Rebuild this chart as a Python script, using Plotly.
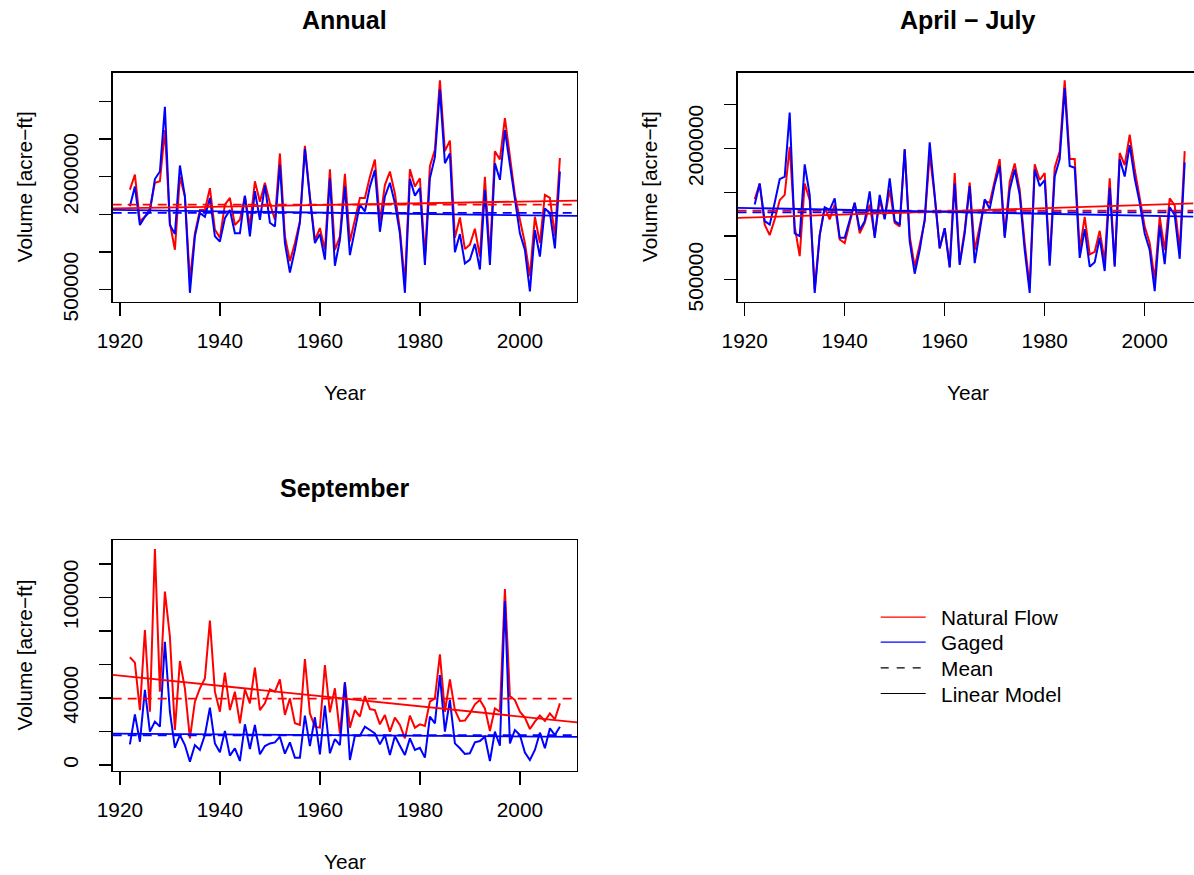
import numpy as np
import plotly.graph_objects as go

# ---------------- data ----------------
years = list(range(1922, 2009))

annual_natural = [
    1830000, 2030000, 1410000, 1470000, 1580000, 1920000, 1940000, 2620000, 1385000, 1031000,
    2000000, 1739000, 630000, 1250000, 1560000, 1560000, 1850000, 1300000, 1190000, 1630000,
    1720000, 1360000, 1430000, 1740000, 1340000, 1940000, 1670000, 1920000, 1650000, 1430000,
    2310000, 1210000, 880000, 1120000, 1410000, 2410000, 1740000, 1160000, 1320000, 1030000,
    2100000, 1030000, 1210000, 2040000, 1140000, 1430000, 1720000, 1720000, 2000000, 2230000,
    1410000, 1890000, 2070000, 1780000, 1300000, 590000, 2100000, 1870000, 1980000, 920000,
    2140000, 2360000, 3280000, 2340000, 2480000, 1190000, 1460000, 1040000, 1100000, 1310000,
    940000, 2000000, 940000, 2340000, 2230000, 2780000, 2270000, 1760000, 1430000, 1120000,
    680000, 1470000, 1120000, 1760000, 1720000, 1210000, 2250000,
]
annual_gaged = [
    1610000, 1870000, 1360000, 1470000, 1540000, 1970000, 2070000, 2930000, 1360000, 1240000,
    2150000, 1740000, 460000, 1210000, 1520000, 1470000, 1720000, 1210000, 1140000, 1450000,
    1560000, 1250000, 1250000, 1750000, 1210000, 1810000, 1430000, 1890000, 1390000, 1340000,
    2160000, 1120000, 730000, 1030000, 1390000, 2370000, 1720000, 1120000, 1240000, 900000,
    1980000, 820000, 1160000, 1870000, 960000, 1300000, 1630000, 1540000, 1870000, 2090000,
    1270000, 1740000, 1920000, 1650000, 1250000, 460000, 1970000, 1750000, 1850000, 830000,
    1980000, 2260000, 3160000, 2180000, 2310000, 1000000, 1240000, 850000, 900000, 1110000,
    770000, 1820000, 830000, 2180000, 1960000, 2620000, 2140000, 1670000, 1250000, 1030000,
    480000, 1290000, 940000, 1580000, 1520000, 1050000, 2070000,
]
aprjul_natural = [
    1420000, 1600000, 1130000, 1010000, 1190000, 1410000, 1470000, 2020000, 1110000, 770000,
    1600000, 1410000, 390000, 1010000, 1320000, 1190000, 1360000, 960000, 920000, 1150000,
    1380000, 1030000, 1150000, 1360000, 1000000, 1410000, 1200000, 1530000, 1150000, 1110000,
    1990000, 1000000, 650000, 900000, 1170000, 1930000, 1450000, 860000, 1090000, 650000,
    1720000, 690000, 1070000, 1610000, 840000, 1110000, 1400000, 1380000, 1640000, 1880000,
    1000000, 1620000, 1830000, 1530000, 920000, 420000, 1820000, 1640000, 1720000, 710000,
    1780000, 1970000, 2780000, 1880000, 1880000, 840000, 1220000, 790000, 820000, 1060000,
    710000, 1660000, 670000, 1950000, 1810000, 2160000, 1760000, 1450000, 1110000, 920000,
    500000, 1220000, 840000, 1430000, 1350000, 840000, 1970000,
]
aprjul_gaged = [
    1360000, 1600000, 1170000, 1130000, 1380000, 1650000, 1680000, 2410000, 1030000, 1000000,
    1820000, 1470000, 350000, 1010000, 1330000, 1300000, 1430000, 980000, 980000, 1170000,
    1380000, 1070000, 1170000, 1510000, 980000, 1470000, 1190000, 1660000, 1170000, 1130000,
    1990000, 940000, 570000, 840000, 1190000, 2070000, 1490000, 860000, 1090000, 640000,
    1600000, 670000, 1030000, 1570000, 690000, 1070000, 1420000, 1310000, 1590000, 1800000,
    980000, 1530000, 1760000, 1470000, 840000, 350000, 1760000, 1570000, 1640000, 660000,
    1680000, 1880000, 2690000, 1800000, 1780000, 750000, 1080000, 650000, 700000, 980000,
    600000, 1550000, 650000, 1880000, 1680000, 2040000, 1660000, 1380000, 1030000, 840000,
    370000, 1120000, 680000, 1330000, 1240000, 740000, 1840000,
]
sep_natural = [
    64300, 61100, 32800, 80600, 31800, 129000, 43800, 103500, 76600, 20900,
    62100, 45800, 15900, 37800, 45800, 51700, 86200, 43800, 31800, 55100,
    32800, 43800, 24900, 45200, 36800, 58100, 32800, 36800, 45200, 43800,
    51100, 29900, 39800, 24900, 23900, 63300, 30800, 22900, 22300, 59700,
    31400, 45800, 18900, 49400, 22300, 32800, 28900, 41200, 33400, 32800,
    24300, 29900, 19900, 28300, 23900, 15900, 29500, 22300, 24300, 23300,
    37800, 39800, 66100, 31800, 51100, 32800, 26300, 26500, 30800, 36200,
    38800, 33800, 20300, 33800, 31800, 105100, 41200, 38800, 31800, 28300,
    21500, 25900, 29500, 26300, 30800, 27300, 36800,
]
sep_gaged = [
    12300, 30200, 13900, 44800, 19900, 25900, 22900, 73600, 31800, 10300,
    17900, 11900, 2000, 11900, 9000, 17900, 34200, 12900, 7600, 20300,
    5600, 10000, 2400, 24300, 9600, 23900, 6400, 11300, 12900, 13500,
    16900, 6800, 13500, 4400, 4400, 29500, 11300, 28500, 6400, 35400,
    7000, 15500, 11900, 49400, 3000, 17500, 17500, 22900, 20900, 18900,
    12300, 17900, 6000, 17300, 11500, 6000, 15900, 9000, 10300, 4400,
    28900, 24900, 53700, 19900, 38800, 12900, 10000, 6600, 7000, 13500,
    14300, 16900, 2400, 19900, 11500, 97900, 12900, 20900, 17900, 7400,
    3000, 9000, 19300, 10000, 21900, 17900, 22900,
]

panel_titles = ["Annual", "April \u2212 July", "September"]
x_title = "Year"
y_title = "Volume [acre\u2212ft]"
x_tick_vals = [1920, 1940, 1960, 1980, 2000]
annual_tick_vals = [500000, 1000000, 1500000, 2000000, 2500000, 3000000]
annual_tick_text = ["500000", "", "", "2000000", "", ""]
aprjul_tick_vals = [500000, 1000000, 1500000, 2000000, 2500000]
aprjul_tick_text = ["500000", "", "", "2000000", ""]
sep_tick_vals = [0, 20000, 40000, 60000, 80000, 100000, 120000]
sep_tick_text = ["0", "", "40000", "", "", "100000", ""]
legend_labels = ["Natural Flow", "Gaged", "Mean", "Linear Model"]

# ---------------- layout helpers ----------------
W, H = 1194, 875
RED, BLUE, BLACK = "#FF0000", "#0000FF", "#000000"
FONT = "Liberation Sans, Arial, Helvetica, sans-serif"
FS = 20.8


def fx(px):
    return px / W


def fy(py):
    return 1 - py / H


panels = [
    dict(nat=annual_natural, gag=annual_gaged, xa="x", ya="y",
         xdom=(112.7, 577.1), ydom=(72.5, 301.5), xr=[1918.56, 2011.44],
         yr=[344700, 3384500], tv=annual_tick_vals, tt=annual_tick_text,
         title=panel_titles[0], tx=344.9),
    dict(nat=aprjul_natural, gag=aprjul_gaged, xa="x2", ya="y2",
         xdom=(737.5, 1193.5), ydom=(72.5, 301.5), xr=[1918.56, 2009.76],
         yr=[252000, 2869000], tv=aprjul_tick_vals, tt=aprjul_tick_text,
         title=panel_titles[1], tx=968.5),
    dict(nat=sep_natural, gag=sep_gaged, xa="x3", ya="y3",
         xdom=(112.7, 577.1), ydom=(540.0, 770.5), xr=[1918.56, 2011.44],
         yr=[-3280, 134330], tv=sep_tick_vals, tt=sep_tick_text,
         title=panel_titles[2], tx=344.9),
]

fig = go.Figure()
yrs = np.array(years, dtype=float)

for p in panels:
    xr = p["xr"]
    for vals, col in [(p["nat"], RED), (p["gag"], BLUE)]:
        fig.add_trace(go.Scatter(x=years, y=vals, mode="lines",
                                 line=dict(color=col, width=2),
                                 xaxis=p["xa"], yaxis=p["ya"],
                                 showlegend=False, hoverinfo="skip"))
    for vals, col in [(p["nat"], RED), (p["gag"], BLUE)]:
        m = float(np.mean(vals))
        fig.add_trace(go.Scatter(x=xr, y=[m, m], mode="lines",
                                 line=dict(color=col, width=1.8, dash="9px,6px"),
                                 xaxis=p["xa"], yaxis=p["ya"],
                                 showlegend=False, hoverinfo="skip"))
    for vals, col in [(p["nat"], RED), (p["gag"], BLUE)]:
        slope, icpt = np.polyfit(yrs, np.array(vals, dtype=float), 1)
        fig.add_trace(go.Scatter(x=xr, y=[icpt + slope * xr[0], icpt + slope * xr[1]],
                                 mode="lines", line=dict(color=col, width=1.8),
                                 xaxis=p["xa"], yaxis=p["ya"],
                                 showlegend=False, hoverinfo="skip"))

# legend-only entries, one legend per row
legend_styles = [(RED, "solid"), (BLUE, "solid"), (BLACK, "8px,8px"), (BLACK, "solid")]
legend_rows = [617.7, 642.7, 668.3, 694.0]
for i, (lab, (col, dash)) in enumerate(zip(legend_labels, legend_styles)):
    lname = "legend" if i == 0 else f"legend{i + 1}"
    fig.add_trace(go.Scatter(x=[None], y=[None], mode="lines", name="\u2002" + lab,
                             line=dict(color=col, width=1.2, dash=dash),
                             xaxis="x", yaxis="y", legend=lname, showlegend=True))

layout = dict(
    template="none",
    width=W, height=H, margin=dict(l=0, r=0, t=0, b=0, pad=0, autoexpand=False),
    paper_bgcolor="white", plot_bgcolor="white",
    font=dict(family=FONT, size=FS, color="black"),
    showlegend=True,
)

for i, row in enumerate(legend_rows):
    lname = "legend" if i == 0 else f"legend{i + 1}"
    layout[lname] = dict(x=fx(875.7), y=fy(row), xanchor="left", yanchor="middle",
                         bgcolor="rgba(0,0,0,0)", borderwidth=0,
                         font=dict(family=FONT, size=FS, color="black"),
                         itemwidth=45, tracegroupgap=0)

annotations = []
for k, p in enumerate(panels):
    suf = "" if k == 0 else str(k + 1)
    layout["xaxis" + suf] = dict(
        domain=[fx(p["xdom"][0]), fx(p["xdom"][1])], range=p["xr"],
        anchor=p["ya"], showgrid=False, zeroline=False, automargin=False,
        showline=True, mirror=True, linecolor="black", linewidth=1.3,
        ticks="outside", ticklen=12.7, tickwidth=1.3, tickcolor="black",
        tickvals=x_tick_vals, ticktext=[str(v) for v in x_tick_vals],
        tickfont=dict(family=FONT, size=FS, color="black"),
        ticklabelstandoff=8,
    )
    layout["yaxis" + suf] = dict(
        domain=[fy(p["ydom"][1]), fy(p["ydom"][0])], range=p["yr"],
        anchor=p["xa"], showgrid=False, zeroline=False, automargin=False,
        showline=True, mirror=True, linecolor="black", linewidth=1.3,
        ticks="outside", ticklen=12.7, tickwidth=1.3, tickcolor="black",
        tickvals=p["tv"], ticktext=p["tt"], tickangle=-90,
        tickfont=dict(family=FONT, size=FS, color="black"),
        ticklabelstandoff=12,
    )
    cy = (p["ydom"][0] + p["ydom"][1]) / 2
    annotations.append(dict(text="<b>" + p["title"] + "</b>", x=fx(p["tx"]),
                            y=fy(p["ydom"][0] - 52.5), xref="paper", yref="paper",
                            showarrow=False, xanchor="center", yanchor="middle",
                            font=dict(family=FONT, size=25, color="black")))
    annotations.append(dict(text=x_title, x=fx(p["tx"]), y=fy(p["ydom"][1] + 91.0),
                            xref="paper", yref="paper", showarrow=False,
                            xanchor="center", yanchor="middle",
                            font=dict(family=FONT, size=FS, color="black")))
    annotations.append(dict(text=y_title, x=fx(p["xdom"][0] - 88.5), y=fy(cy),
                            xref="paper", yref="paper", showarrow=False, textangle=-90,
                            xanchor="center", yanchor="middle",
                            font=dict(family=FONT, size=FS, color="black")))

layout["annotations"] = annotations
fig.update_layout(**layout)
fig.write_html("out.html",
               config={"displayModeBar": False, "staticPlot": True},
               post_script="document.body.style.margin='0px';"
                           "document.body.style.overflow='hidden';")
